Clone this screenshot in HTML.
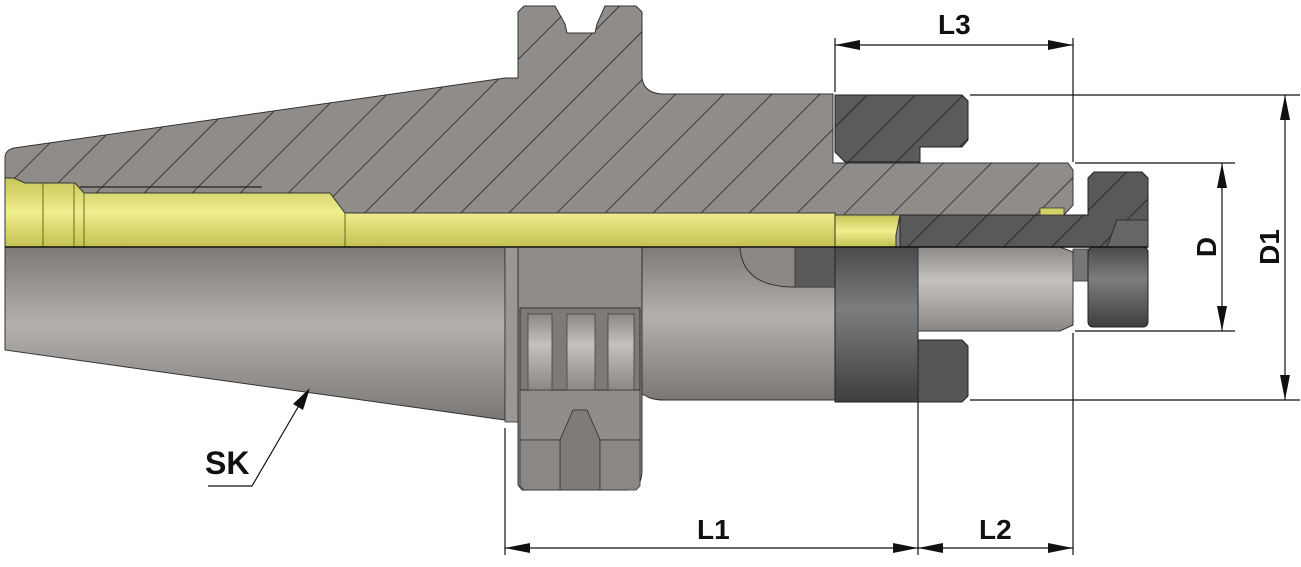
<!DOCTYPE html>
<html><head><meta charset="utf-8"><style>
html,body{margin:0;padding:0;background:#fff;}
svg{display:block;}
text{font-family:"Liberation Sans",sans-serif;font-weight:bold;fill:#111;}
</style></head><body>
<svg width="1301" height="567" viewBox="0 0 1301 567" xmlns="http://www.w3.org/2000/svg">
<defs>
<pattern id="h" patternUnits="userSpaceOnUse" width="34" height="34" patternTransform="rotate(45)">
<line x1="0" y1="0" x2="0" y2="34" stroke="#111" stroke-width="1.3"/>
</pattern>
<linearGradient id="gv" x1="0" y1="0" x2="0" y2="1">
<stop offset="0" stop-color="#7d7a77"/><stop offset="0.45" stop-color="#b3b0ad"/><stop offset="1" stop-color="#7a7775"/>
</linearGradient>
<linearGradient id="gd" x1="0" y1="0" x2="0" y2="1">
<stop offset="0" stop-color="#4a4a4a"/><stop offset="0.4" stop-color="#7d7d7d"/><stop offset="1" stop-color="#3e3e3e"/>
</linearGradient>
<linearGradient id="gy" x1="0" y1="0" x2="0" y2="1">
<stop offset="0" stop-color="#c7c658"/><stop offset="0.5" stop-color="#efee8e"/><stop offset="1" stop-color="#c2c150"/>
</linearGradient>
<linearGradient id="gl" x1="0" y1="0" x2="0" y2="1">
<stop offset="0" stop-color="#8c8987"/><stop offset="0.4" stop-color="#c4c1be"/><stop offset="1" stop-color="#8a8785"/>
</linearGradient>
</defs>

<path d="M5,247 L505,247 L505,420 L5,350 Z" fill="url(#gv)" stroke="#333" stroke-width="1"/>
<rect x="505" y="247" width="13" height="175" fill="#9a9794" stroke="#333" stroke-width="0.8"/>
<path d="M518,247 L642,247 L642,470 Q642,490 625,490 L522,490 L518,485 Z" fill="#8e8b88" stroke="#333" stroke-width="1"/>
<path d="M520,390 L640,390 L640,440 L600,440 L587,410 L573,410 L560,440 L520,440 Z" fill="#8f8c89" stroke="#333" stroke-width="0.8"/>
<path d="M560,440 L573,410 L587,410 L600,440 L600,490 L560,490 Z" fill="#7e7b79" stroke="#333" stroke-width="0.8"/>
<path d="M520,440 L560,440 L560,490 L524,490 L520,486 Z M600,440 L640,440 L640,486 L636,490 L600,490 Z" fill="#8a8785" stroke="#333" stroke-width="0.8"/>
<rect x="520" y="308" width="120" height="82" fill="#7d7a77" stroke="#333" stroke-width="1"/>
<rect x="528" y="314" width="24" height="76" fill="url(#gl)" stroke="#444" stroke-width="0.8"/>
<rect x="567" y="314" width="28" height="76" fill="url(#gl)" stroke="#444" stroke-width="0.8"/>
<rect x="608" y="314" width="26" height="76" fill="url(#gl)" stroke="#444" stroke-width="0.8"/>
<path d="M642,247 L835,247 L835,400 L665,400 Q650,400 645,395 L642,395 Z" fill="url(#gv)" stroke="#333" stroke-width="1"/>
<path d="M740,247 Q742,285 790,287 L835,287 L835,247 Z" fill="#8b8886" stroke="#333" stroke-width="1"/>
<path d="M795,247 L835,247 L835,287 L795,287 Z" fill="#5a5a5a" stroke="#333" stroke-width="0.8"/>
<path d="M835,247 L918,247 L918,402 L835,402 Z" fill="url(#gd)" stroke="#222" stroke-width="1"/>
<path d="M918,340 L962,340 L968,346 L968,396 L962,402 L918,402 Z" fill="#555" stroke="#222" stroke-width="1"/>
<path d="M918,247 L1060,247 L1073,252 L1073,325 L1060,331 L918,331 Z" fill="url(#gl)" stroke="#333" stroke-width="1"/>
<rect x="1073" y="249" width="15" height="32" fill="#777" stroke="#333" stroke-width="0.8"/>
<rect x="1088" y="247" width="60" height="80" rx="5" fill="url(#gd)" stroke="#222" stroke-width="1"/>

<path d="M5,158 Q5,150 14,148 L505,78 L518,78 L518,12 L524,6 L555,6 L565,24 L567,33 L595,33 L597,24 L605,6 L636,6 L642,12 L642,78 Q644,93 662,94 L833,94 L833,163 L1068,163 L1073,170 L1073,205 L1064,215 L900,215 L900,247 L5,247 Z" fill="#8f8c89" stroke="#333" stroke-width="1"/>
<path d="M5,158 Q5,150 14,148 L505,78 L518,78 L518,12 L524,6 L555,6 L565,24 L567,33 L595,33 L597,24 L605,6 L636,6 L642,12 L642,78 Q644,93 662,94 L833,94 L833,163 L1068,163 L1073,170 L1073,205 L1064,215 L900,215 L900,247 L5,247 Z" fill="url(#h)"/>
<path d="M835,95 L962,95 L968,101 L968,140 L962,147 L920,147 L920,162 L845,162 L835,152 Z" fill="#5b5b5b" stroke="#222" stroke-width="1"/>
<path d="M835,95 L962,95 L968,101 L968,140 L962,147 L920,147 L920,162 L845,162 L835,152 Z" fill="url(#h)"/>
<path d="M900,215 L1088,215 L1088,178 L1094,172 L1142,172 L1148,178 L1148,247 L900,247 Z" fill="#595959" stroke="#222" stroke-width="1"/>
<path d="M900,215 L1088,215 L1088,178 L1094,172 L1142,172 L1148,178 L1148,247 L900,247 Z" fill="url(#h)"/>
<path d="M1107,247 L1117,220 L1148,220 L1148,247 Z" fill="#666" stroke="#222" stroke-width="0.8"/>
<path d="M5,178 L14,178 L25,183 L75,183 L84,193 L330,193 L345,213 L835,213 L835,247 L5,247 Z" fill="url(#gy)" stroke="#333" stroke-width="1"/>
<line x1="43" y1="183" x2="43" y2="247" stroke="#6b6a20" stroke-width="1"/>
<line x1="74" y1="183" x2="74" y2="247" stroke="#6b6a20" stroke-width="1"/>
<line x1="84" y1="193" x2="84" y2="247" stroke="#6b6a20" stroke-width="1"/>
<line x1="345" y1="213" x2="345" y2="247" stroke="#6b6a20" stroke-width="1"/>
<path d="M835,215 L900,215 L896,235 L896,247 L835,247 Z" fill="url(#gy)" stroke="#333" stroke-width="1"/>
<path d="M1040,208 L1064,208 L1064,215 L1040,215 Z" fill="#d4d36a" stroke="#333" stroke-width="0.8"/>
<line x1="80" y1="187" x2="262" y2="187" stroke="#222" stroke-width="1.2"/>
<line x1="5" y1="247" x2="1148" y2="247" stroke="#111" stroke-width="1.5"/>

<g stroke="#111" stroke-width="1.2" fill="none">
<line x1="835" y1="38" x2="835" y2="92"/>
<line x1="1073" y1="38" x2="1073" y2="162"/>
<line x1="1073" y1="333" x2="1073" y2="555"/>
<line x1="505" y1="428" x2="505" y2="555"/>
<line x1="918" y1="402" x2="918" y2="555"/>
<line x1="970" y1="95" x2="1300" y2="95"/>
<line x1="970" y1="400" x2="1300" y2="400"/>
<line x1="1075" y1="163" x2="1235" y2="163"/>
<line x1="1075" y1="331" x2="1235" y2="331"/>
<line x1="835" y1="45" x2="1073" y2="45"/>
<line x1="505" y1="548" x2="1073" y2="548"/>
<line x1="1222" y1="163" x2="1222" y2="331"/>
<line x1="1285" y1="95" x2="1285" y2="400"/>
<polyline points="208,486 252,486 308,390"/>
</g>
<g fill="#111">
<path d="M835,45 L860,40 L860,50 Z"/><path d="M1073,45 L1048,40 L1048,50 Z"/>
<path d="M505,548 L530,543 L530,553 Z"/><path d="M918,548 L893,543 L893,553 Z"/>
<path d="M918,548 L943,543 L943,553 Z"/><path d="M1073,548 L1048,543 L1048,553 Z"/>
<path d="M1222,163 L1217,188 L1227,188 Z"/><path d="M1222,331 L1217,306 L1227,306 Z"/>
<path d="M1285,95 L1280,120 L1290,120 Z"/><path d="M1285,400 L1280,375 L1290,375 Z"/>
<path d="M310,388 L293,404 L303,410 Z"/>
</g>
<text x="938" y="34" font-size="28">L3</text>
<text x="697" y="539" font-size="28">L1</text>
<text x="979" y="539" font-size="28">L2</text>
<text x="205" y="474" font-size="32">SK</text>
<text transform="translate(1216,247) rotate(-90)" text-anchor="middle" font-size="28">D</text>
<text transform="translate(1279,247) rotate(-90)" text-anchor="middle" font-size="28">D1</text>
</svg>
</body></html>
